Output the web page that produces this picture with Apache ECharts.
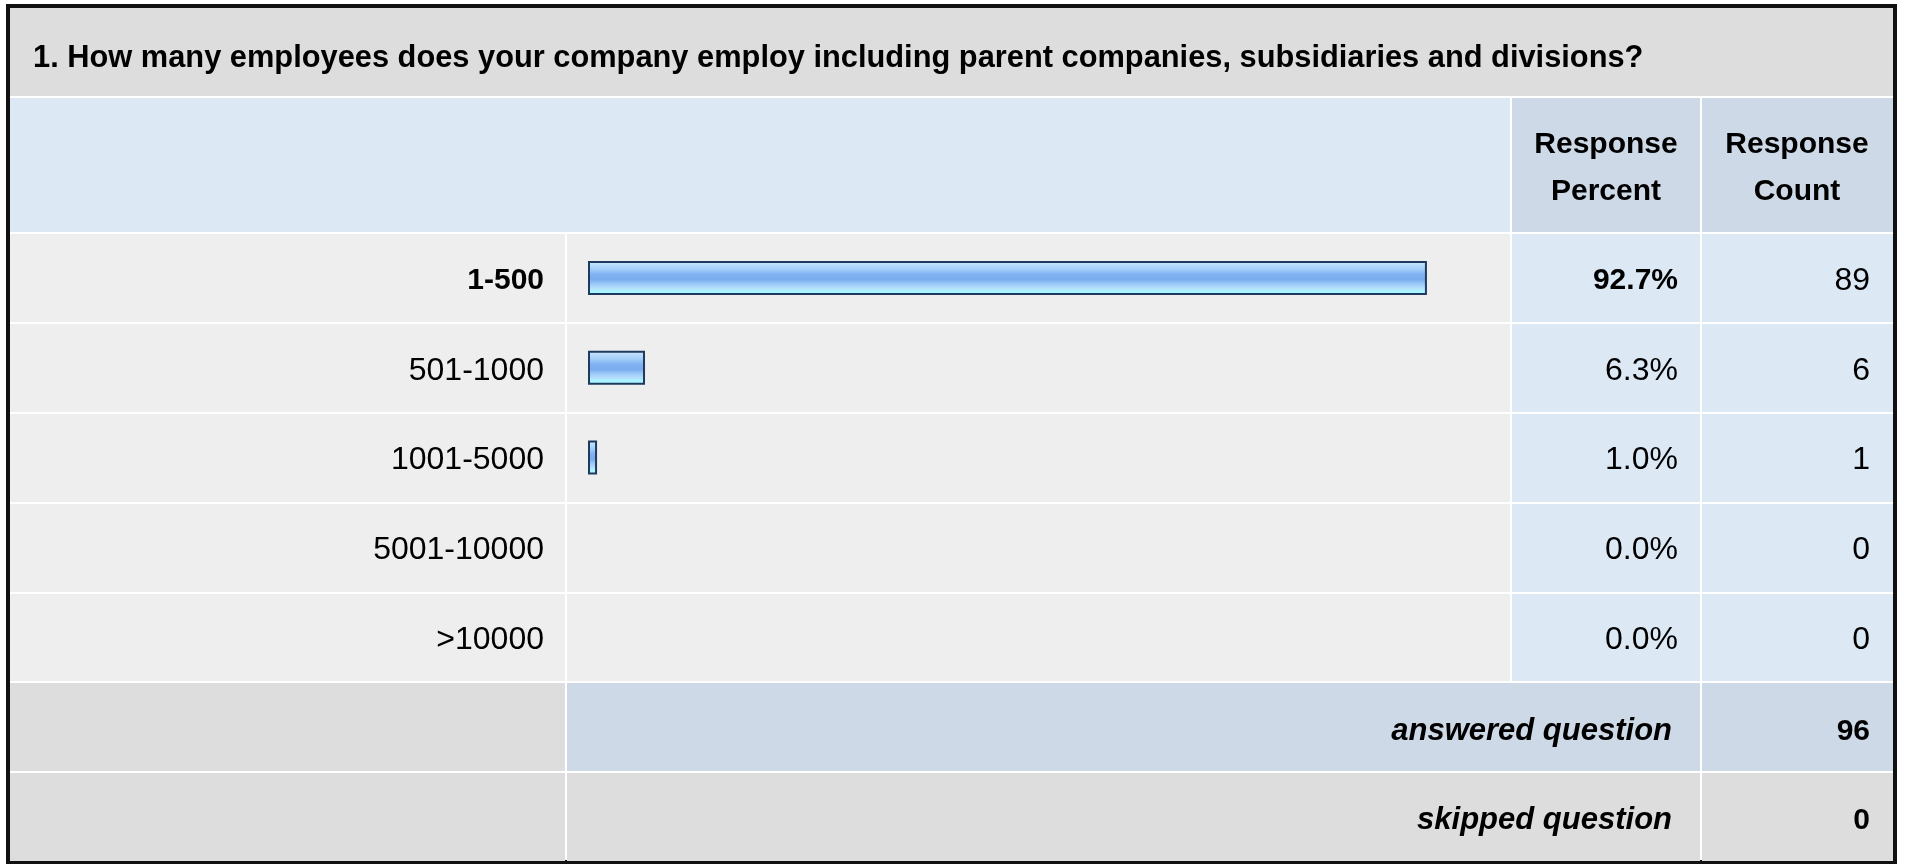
<!DOCTYPE html>
<html><head><meta charset="utf-8">
<script src="https://cdn.jsdelivr.net/npm/echarts@6/dist/echarts.min.js"></script>
<style>html,body{margin:0;padding:0;background:#fff}#c{width:1907px;height:865px}</style>
</head><body><div id="c"></div>
<script>
// ---- data ----
const questionTitle = '1. How many employees does your company employ including parent companies, subsidiaries and divisions?';
const categories = ['1-500', '501-1000', '1001-5000', '5001-10000', '>10000'];
const responsePercent = [92.7, 6.3, 1.0, 0.0, 0.0];
const responseCount = [89, 6, 1, 0, 0];
const headerLabels = ['Response\nPercent', 'Response\nCount'];
const summaryLabels = ['answered question', 'skipped question'];
const summaryCounts = [96, 0];

// ---- layout (table structure) ----
const FONT = '"Liberation Sans", Arial, Helvetica, sans-serif';
const colX = [10, 566, 1511, 1701, 1893];     // column boundaries
const rowY = [8, 97, 233, 323, 413, 503, 593, 682, 772, 861]; // row boundaries
const C_TITLE = '#dddddd', C_HEAD = '#dde8f5', C_HEAD2 = '#cdd9e6', C_ROW = '#eeeeee', C_VAL = '#dde8f5';

function cell(x0, x1, y0, y1, fill) {
  return { type: 'rect', silent: true, z: 0,
    shape: { x: x0 + 1, y: y0 + 1, width: x1 - x0 - 2, height: y1 - y0 - 2 },
    style: { fill: fill } };
}
const g = [];
g.push({ type: 'rect', silent: true, z: 0, shape: { x: 6, y: 4, width: 1891, height: 860 }, style: { fill: '#111' } });
g.push({ type: 'rect', silent: true, z: 0, shape: { x: 10, y: 8, width: 1883, height: 852 }, style: { fill: '#fff' } });
g.push(cell(colX[0] - 1, colX[4] + 1, rowY[0] - 1, rowY[1], C_TITLE));
g.push(cell(colX[0] - 1, colX[2], rowY[1], rowY[2], C_HEAD));
g.push(cell(colX[2], colX[3], rowY[1], rowY[2], C_HEAD2));
g.push(cell(colX[3], colX[4] + 1, rowY[1], rowY[2], C_HEAD2));
for (let r = 0; r < categories.length; r++) {
  const y0 = rowY[2 + r], y1 = rowY[3 + r];
  g.push(cell(colX[0] - 1, colX[1], y0, y1, C_ROW));
  g.push(cell(colX[1], colX[2], y0, y1, C_ROW));
  g.push(cell(colX[2], colX[3], y0, y1, C_VAL));
  g.push(cell(colX[3], colX[4] + 1, y0, y1, C_VAL));
}
g.push(cell(colX[0] - 1, colX[1], rowY[7], rowY[8], C_TITLE));
g.push(cell(colX[1], colX[3], rowY[7], rowY[8], C_HEAD2));
g.push(cell(colX[3], colX[4] + 1, rowY[7], rowY[8], C_HEAD2));
g.push(cell(colX[0] - 1, colX[1], rowY[8], rowY[9] + 1, C_TITLE));
g.push(cell(colX[1], colX[3], rowY[8], rowY[9] + 1, C_TITLE));
g.push(cell(colX[3], colX[4] + 1, rowY[8], rowY[9] + 1, C_TITLE));
headerLabels.forEach(function (t, i) {
  g.push({ type: 'text', silent: true, z: 5,
    style: { text: t, x: (colX[2 + i] + colX[3 + i]) / 2, y: (rowY[1] + rowY[2]) / 2 + 3,
      align: 'center', verticalAlign: 'middle', fill: '#000',
      font: 'bold 30px ' + FONT, lineHeight: 47 } });
});

const GL = 588, GR = 1907 - 1493;
const richStyles = {
  b: { fontFamily: FONT, fontSize: 30, fontWeight: 'bold', color: '#000' },
  n: { fontFamily: FONT, fontSize: 32, color: '#000' },
  bi: { fontFamily: FONT, fontSize: 31, fontWeight: 'bold', fontStyle: 'italic', color: '#000' }
};
function firstBold(v, i) { return i === 0 ? '{b|' + v + '}' : '{n|' + v + '}'; }
function plain(v) { return '{n|' + v + '}'; }
function bold(v) { return '{b|' + v + '}'; }
function boldItalic(v) { return '{bi|' + v + '}'; }
const hidden = { axisLine: { show: false }, axisTick: { show: false }, splitLine: { show: false } };

const chart = echarts.init(document.getElementById('c'), null, { renderer: 'canvas' });
chart.setOption({
  animation: false,
  backgroundColor: '#fff',
  title: { text: questionTitle, left: 33, top: 43, padding: 0,
    textStyle: { fontFamily: FONT, fontSize: 30.8, fontWeight: 'bold', color: '#000' } },
  graphic: g,
  grid: [
    { left: GL, right: GR, top: rowY[2], height: rowY[7] - rowY[2] },
    { left: GL, right: GR, top: rowY[7], height: rowY[9] - rowY[7] }
  ],
  xAxis: [
    { gridIndex: 0, type: 'value', min: 0, max: 100, show: false },
    { gridIndex: 1, type: 'value', min: 0, max: 100, show: false }
  ],
  yAxis: [
    Object.assign({ gridIndex: 0, type: 'category', data: categories, inverse: true,
      axisLabel: { margin: 44, padding: [6, 0, 0, 0], formatter: firstBold, rich: richStyles } }, hidden),
    Object.assign({ gridIndex: 0, type: 'category', position: 'right', offset: 1678 - 1493, inverse: true,
      data: responsePercent.map(function (p) { return p.toFixed(1) + '%'; }),
      axisLabel: { margin: 0, align: 'right', padding: [6, 0, 0, 0], formatter: firstBold, rich: richStyles } }, hidden),
    Object.assign({ gridIndex: 0, type: 'category', position: 'right', offset: 1870 - 1493, inverse: true,
      data: responseCount.map(String),
      axisLabel: { margin: 0, align: 'right', padding: [6, 0, 0, 0], formatter: plain, rich: richStyles } }, hidden),
    Object.assign({ gridIndex: 1, type: 'category', position: 'right', offset: 1672 - 1493, inverse: true,
      data: summaryLabels,
      axisLabel: { margin: 0, align: 'right', padding: [9, 0, 0, 0], formatter: boldItalic, rich: richStyles } }, hidden),
    Object.assign({ gridIndex: 1, type: 'category', position: 'right', offset: 1870 - 1493, inverse: true,
      data: summaryCounts.map(String),
      axisLabel: { margin: 0, align: 'right', padding: [9, 0, 0, 0], formatter: bold, rich: richStyles } }, hidden)
  ],
  series: [{
    type: 'bar', xAxisIndex: 0, yAxisIndex: 0, barWidth: 34, z: 10,
    data: responsePercent.map(function (p) {
      return p > 0 ? p : { value: p, itemStyle: { borderWidth: 0, opacity: 0 } };
    }),
    itemStyle: {
      borderColor: '#1f3a5f', borderWidth: 2,
      color: { type: 'linear', x: 0, y: 0, x2: 0, y2: 1, colorStops: [
        { offset: 0, color: '#d2e9fd' }, { offset: 0.12, color: '#b8dcfc' },
        { offset: 0.25, color: '#a2cdf9' }, { offset: 0.4, color: '#80b1f0' },
        { offset: 0.55, color: '#7aacee' }, { offset: 0.68, color: '#9ccaf8' },
        { offset: 0.8, color: '#b6defc' }, { offset: 0.88, color: '#aaf4ff' },
        { offset: 1, color: '#a8fbff' } ] }
    }
  }]
});
</script></body></html>
